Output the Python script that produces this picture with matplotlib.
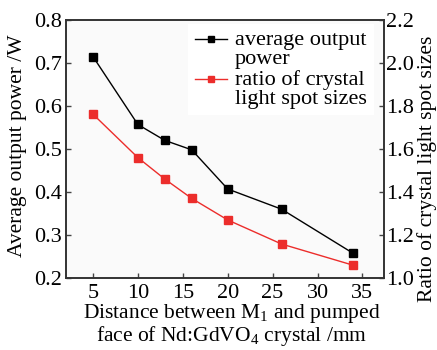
import matplotlib
matplotlib.use("Agg")
import matplotlib.pyplot as plt
from matplotlib.lines import Line2D
from matplotlib.legend_handler import HandlerLine2D

distance = [5, 10, 13, 16, 20, 26, 34]
power = [0.715, 0.557, 0.520, 0.498, 0.407, 0.360, 0.257]
ratio = [1.762, 1.56, 1.46, 1.37, 1.27, 1.158, 1.059]

plt.rcParams['font.family'] = ['Liberation Serif', 'DejaVu Serif']
plt.rcParams['mathtext.fontset'] = 'custom'
plt.rcParams['mathtext.rm'] = 'Liberation Serif'
plt.rcParams['mathtext.it'] = 'Liberation Serif:italic'

W, H = 437, 350
fig = plt.figure(figsize=(W/100, H/100), dpi=100)
ax = fig.add_axes([66/W, 1-278/H, (384-66)/W, (278-20)/H])
ax.set_facecolor('#fafafa')
ax2 = ax.twinx()

red = '#ec2d2b'
l1, = ax.plot(distance, power, color='black', marker='s', markersize=6, lw=1.0)
l2, = ax2.plot(distance, ratio, color=red, marker='s', markersize=6, lw=1.0)

ax.set_xlim(2, 37.4)
ax.set_ylim(0.2, 0.8)
ax2.set_ylim(1.0, 2.2)
ax.set_xticks([5, 10, 15, 20, 25, 30, 35])
ax.set_yticks([0.2, 0.3, 0.4, 0.5, 0.6, 0.7, 0.8])
ax2.set_yticks([1.0, 1.2, 1.4, 1.6, 1.8, 2.0, 2.2])
ax2.set_yticklabels(['1.0', '1.2', '1.4', '1.6', '1.8', '2.0', '2.2'])

fs_tick = 16
for a in (ax, ax2):
    a.tick_params(direction='in', labelsize=fs_tick, length=3.5, width=1, color='#444444')
    for s in a.spines.values():
        s.set_color('#333333')
        s.set_linewidth(1.2)
ax.tick_params(axis='y', pad=3)
ax.tick_params(axis='x', pad=4)
ax2.tick_params(axis='y', pad=1.5)

fs = 15.5
fig.text(17.5/W, 1-146/H, 'Average output power /W', rotation=90, fontsize=fs,
         ha='center', va='center')
fig.text(427/W, 1-169/H, 'Ratio of crystal light spot sizes', rotation=90, fontsize=fs,
         ha='center', va='center')
fig.text(231.5/W, 1-341/H,
         'Distance between M$_\\mathrm{1}$ and pumped\nface of Nd:GdVO$_\\mathrm{4}$ crystal /mm',
         fontsize=fs, ha='center', va='baseline', multialignment='center',
         linespacing=0.92)


class FirstLineHandler(HandlerLine2D):
    """Place the legend handle level with the first line of a two-line label."""
    def __init__(self, shift, **kw):
        super().__init__(**kw)
        self.shift = shift

    def create_artists(self, legend, orig_handle, xdescent, ydescent, width,
                       height, fontsize, trans):
        return super().create_artists(legend, orig_handle, xdescent,
                                      ydescent - 2 * self.shift, width, height,
                                      fontsize, trans)


h1 = Line2D([], [], color='black', marker='s', markersize=5, lw=1.0)
h2 = Line2D([], [], color=red, marker='s', markersize=5, lw=1.0)
hm = FirstLineHandler(shift=7.0)
leg = ax2.legend(handles=[h1, h2],
                 labels=['average output\npower', 'ratio of crystal\nlight spot sizes'],
                 loc='upper left', bbox_to_anchor=(0.385, 0.985), fontsize=16,
                 frameon=True, fancybox=False, edgecolor='none', facecolor='white',
                 framealpha=1, handlelength=1.45, handletextpad=0.35, borderpad=0.3,
                 borderaxespad=0, labelspacing=0.05,
                 handler_map={h1: hm, h2: hm})
for t in leg.get_texts():
    t.set_linespacing(1.0)

fig.savefig('out.png', dpi=100)
